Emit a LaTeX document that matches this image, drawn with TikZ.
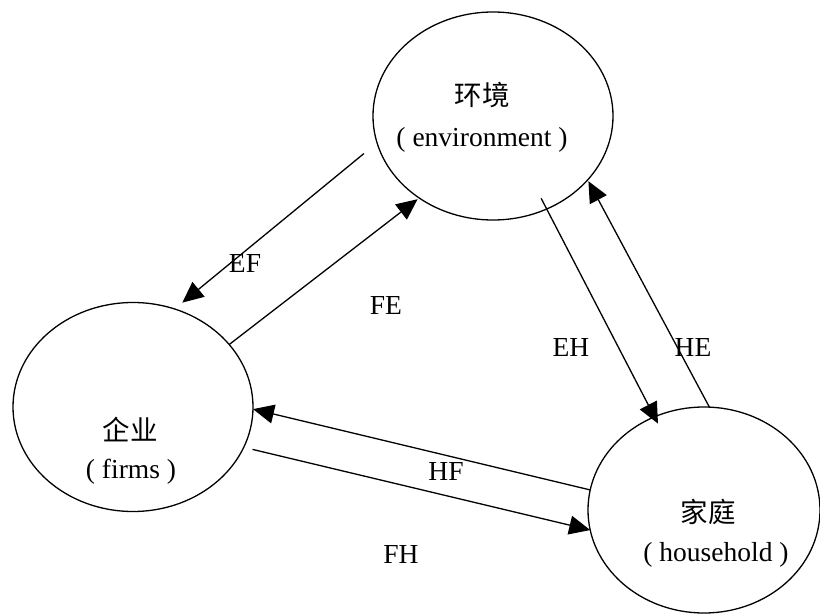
\documentclass[tikz,border=0pt]{standalone}
\usepackage{fontspec}
\setmainfont{Liberation Serif}
\newfontfamily\cjk{Noto Sans CJK SC}
\usetikzlibrary{shapes.geometric,arrows.meta}
\tikzset{blob/.style={ellipse,draw,line width=1.3pt,outer sep=0pt,inner sep=0pt,minimum width=240pt,minimum height=208pt}}
\tikzset{t/.style={inner sep=0pt}}
\tikzset{flow/.style={line width=1.3pt,-{Triangle[length=21pt,width=19pt]}}}

\begin{document}
\begin{tikzpicture}[x=1pt,y=-1pt,font=\fontsize{27.5}{31}\selectfont]
      \useasboundingbox (0,0) rectangle (820,615);
      \node[blob] (E) at (493,116) {};
      \node[blob,minimum height=209pt] (F) at (133,407) {};
      \node[blob,minimum width=232pt,minimum height=206pt] (H) at (704,510) {};
      \node[t] (Ecn) at (482,95) {\cjk 环境};
      \node[t] (Een) at (482,140) {( environment )};
      \node[t] (Fcn) at (130,430) {\cjk 企业};
      \node[t] (Fen) at (131,472) {( firms )};
      \node[t] (Hcn) at (708,512) {\cjk 家庭};
      \node[t] (Hen) at (716,555) {( household )};
      \draw[flow,shorten <=17pt,shorten >=10pt] (E.193.7) -- (F.67.5);
      \draw[flow,shorten >=2pt] (F.33) -- (E.228.5);
      \draw[flow,shorten <=-12pt,shorten >=-7.6pt] (E.300.4) -- (H.118.5);
      \draw[flow,shorten >=1.5pt] (H.87.2) -- (E.326.3);
      \draw[flow] (H.170) -- (F.359.5);
      \draw[flow,shorten <=9pt] (F.340.3) -- (H.190.7);
      \node[t] (ef) at (245,263) {EF};
      \node[t] (fe) at (386,305) {FE};
      \node[t] (eh) at (571,347) {EH};
      \node[t] (he) at (693,347) {HE};
      \node[t] (hf) at (446,471) {HF};
      \node[t] (fh) at (401,554) {FH};
    \end{tikzpicture}
\end{document}
